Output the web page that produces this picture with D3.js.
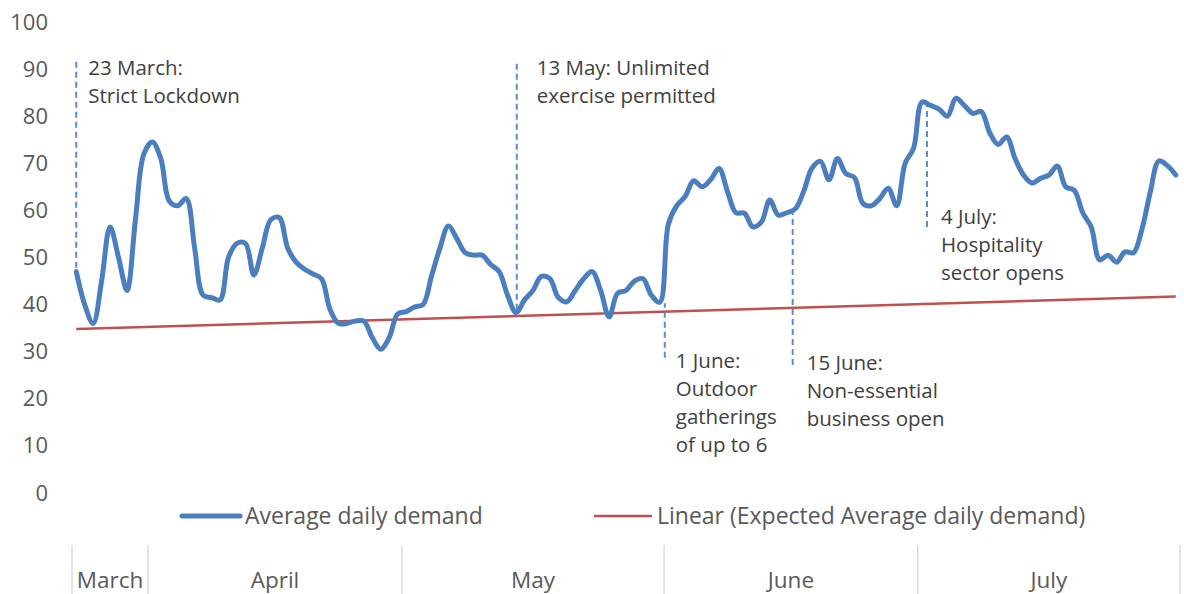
<!DOCTYPE html>
<html>
<head>
<meta charset="utf-8">
<style>
  body { margin: 0; background: #fff; }
  svg text { font-family: 'Open Sans', Lato, sans-serif; }
  .tick text { fill: #595959; font-size: 22px; }
  .note { fill: #404040; font-size: 20.5px; }
  .legend-label { fill: #595959; font-size: 23px; }
  .month { fill: #595959; font-size: 22.5px; }
</style>
</head>
<body>
<div id="chart"></div>
<script src="https://cdn.jsdelivr.net/npm/d3@7"></script>
<script>
// daily values from 23 March to 31 July
var startDay = Date.UTC(2020, 2, 23);
var demand = [
  47, 40, 36, 45, 56.5, 50, 43, 58, 72, 74.5,
  71, 62, 61, 62.5, 52, 42, 41.5, 41, 50, 53,
  53, 46.3, 52, 58, 58.5, 52, 49, 47.5, 46.5, 45.5,
  39, 36, 36, 36.5, 36.5, 33, 30.5, 33, 38, 38.5,
  39.5, 40, 46, 52, 56.7, 54, 51, 50.5, 50.5, 48.5,
  47, 42, 38.3, 41, 43, 46, 45.5, 41.5, 40.6, 43,
  45.5, 47, 43, 37.4, 42.4, 43, 45, 45.5, 42, 40.5,
  57, 61, 63, 66.3, 65, 66.5, 68.9, 64, 59.5, 59.4,
  56.5, 57.5, 62.2, 59, 59.5, 60.3, 64, 69, 70.4, 66.5,
  71, 67.8, 67, 61.5, 61, 62.5, 64.7, 61, 70, 73.2,
  83, 82.3, 81.5, 80, 83.8, 82.3, 80.6, 81, 76.5, 74,
  75.6, 71, 67.5, 65.8, 66.8, 67.5, 69.4, 65, 64.3, 59.5,
  56.5, 49.5, 50.5, 49, 51.2, 51, 56, 64, 70.5, 69.5,
  67.5
];
// expected demand trend: first and last day
var trend = [[0, 34.8], [130, 41.7]];

var months = ["March", "April", "May", "June", "July"];
var monthStarts = [Date.UTC(2020, 2, 23), Date.UTC(2020, 3, 1), Date.UTC(2020, 4, 1),
                   Date.UTC(2020, 5, 1), Date.UTC(2020, 6, 1), Date.UTC(2020, 7, 1)];
var yTicks = [0, 10, 20, 30, 40, 50, 60, 70, 80, 90, 100];

var notes = [
  { at: "2020-03-23T12:00Z", from: 47.8, to: 91.5, label: 90.2, lines: ["23 March:", "Strict Lockdown"] },
  { at: "2020-05-14T14:00Z", from: 38.9, to: 91.5, label: 90.2, lines: ["13 May: Unlimited", "exercise permitted"] },
  { at: "2020-06-01T02:00Z", from: 28.7, to: 40.3, label: 28.0, lines: ["1 June:", "Outdoor", "gatherings", "of up to 6"] },
  { at: "2020-06-16T05:00Z", from: 27.2, to: 59.4, label: 27.6, lines: ["15 June:", "Non-essential", "business open"] },
  { at: "2020-07-02T02:00Z", from: 56.5, to: 82.4, label: 58.6, lines: ["4 July:", "Hospitality", "sector opens"] }
];
var noteDx = [12, 20, 11, 14, 14];

var width = 1184, height = 594;
var DAY = 864e5;

var svg = d3.select("#chart").append("svg")
  .attr("width", width)
  .attr("height", height);

var x = d3.scaleUtc()
  .domain([new Date(startDay), new Date(Date.UTC(2020, 7, 1))])
  .range([72, 1180]);

var y = d3.scaleLinear()
  .domain([0, 100])
  .range([493, 22]);

function dayX(i) { return x(new Date(startDay + i * DAY + DAY / 2)); }

// y axis labels only
svg.append("g")
  .attr("transform", "translate(56,0)")
  .call(d3.axisLeft(y).tickValues(yTicks).tickSize(0).tickPadding(8))
  .call(function(g) { g.select(".domain").remove(); });

// month dividers and names
svg.append("g").selectAll("line")
  .data(monthStarts)
  .enter().append("line")
    .attr("x1", function(d) { return x(new Date(d)); })
    .attr("x2", function(d) { return x(new Date(d)); })
    .attr("y1", 545).attr("y2", 594)
    .attr("stroke", "#d4d4d4")
    .attr("stroke-width", 1.2);

svg.append("g").selectAll("text")
  .data(months)
  .enter().append("text")
    .attr("class", "month")
    .attr("x", function(d, i) { return (x(new Date(monthStarts[i])) + x(new Date(monthStarts[i + 1]))) / 2; })
    .attr("y", 580)
    .attr("dy", "0.35em")
    .attr("text-anchor", "middle")
    .text(function(d) { return d; });

// trend line
var trendLine = d3.line()
  .x(function(d) { return dayX(d[0]); })
  .y(function(d) { return y(d[1]); });

svg.append("path")
  .datum(trend)
  .attr("d", trendLine)
  .attr("fill", "none")
  .attr("stroke", "#c0504d")
  .attr("stroke-width", 2.5);

// annotation dashes
var noteG = svg.append("g");
noteG.selectAll("line")
  .data(notes)
  .enter().append("line")
    .attr("x1", function(d) { return x(new Date(d.at)); })
    .attr("x2", function(d) { return x(new Date(d.at)); })
    .attr("y1", function(d) { return y(d.from); })
    .attr("y2", function(d) { return y(d.to); })
    .attr("stroke", "#5a8bd0")
    .attr("stroke-width", 2)
    .attr("stroke-dasharray", "6,4");

// demand line
var line = d3.line()
  .x(function(d, i) { return dayX(i); })
  .y(function(d) { return y(d); })
  .curve(d3.curveCatmullRom.alpha(0.5));

svg.append("path")
  .datum(demand)
  .attr("d", line)
  .attr("fill", "none")
  .attr("stroke", "#4a7ebf")
  .attr("stroke-width", 5)
  .attr("stroke-linejoin", "round")
  .attr("stroke-linecap", "round");

// annotation text
notes.forEach(function(n, k) {
  var t = noteG.append("text")
    .attr("class", "note")
    .attr("x", x(new Date(n.at)) + noteDx[k])
    .attr("y", y(n.label))
    .attr("dy", "0.35em");
  n.lines.forEach(function(s, j) {
    t.append("tspan")
      .attr("x", x(new Date(n.at)) + noteDx[k])
      .attr("dy", j == 0 ? "0.35em" : 28)
      .text(s);
  });
});

// legend
var legend = svg.append("g");
legend.append("line")
  .attr("x1", 182).attr("x2", 240).attr("y1", 516).attr("y2", 516)
  .attr("stroke", "#4a7ebf").attr("stroke-width", 5).attr("stroke-linecap", "round");
legend.append("text")
  .attr("class", "legend-label")
  .attr("x", 245).attr("y", 516).attr("dy", "0.35em")
  .text("Average daily demand");
legend.append("line")
  .attr("x1", 594).attr("x2", 652).attr("y1", 516).attr("y2", 516)
  .attr("stroke", "#c0504d").attr("stroke-width", 2.5);
legend.append("text")
  .attr("class", "legend-label")
  .attr("x", 657).attr("y", 516).attr("dy", "0.35em")
  .text("Linear (Expected Average daily demand)");
</script>
</body>
</html>
